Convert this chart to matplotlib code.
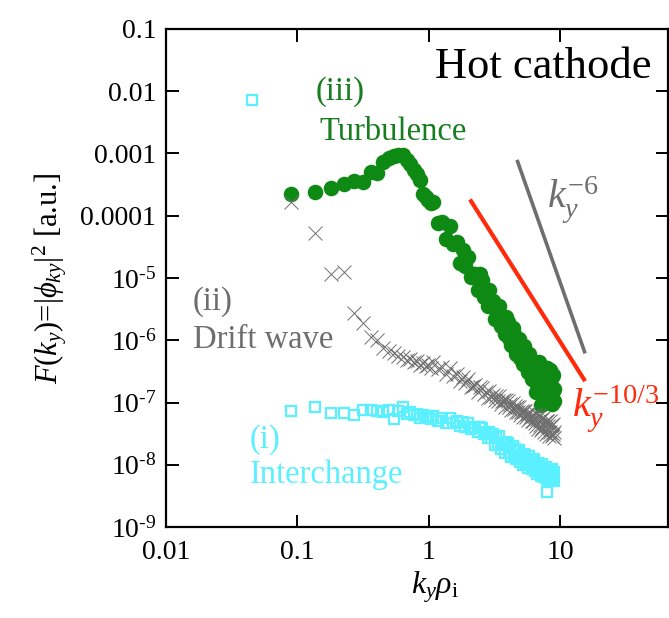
import numpy as np
import matplotlib
matplotlib.use("Agg")
import matplotlib.pyplot as plt

plt.rcParams["font.family"] = ["Liberation Serif", "DejaVu Serif"]
plt.rcParams["mathtext.fontset"] = "custom"
plt.rcParams["mathtext.rm"] = "Liberation Serif"
plt.rcParams["mathtext.it"] = "Liberation Serif:italic"
plt.rcParams["mathtext.bf"] = "Liberation Serif:bold"

# wavenumber grid k_y * rho_i
k_low = [0.045, 0.09, 0.135, 0.18, 0.225, 0.27, 0.315, 0.36, 0.405, 0.45,
         0.495, 0.54, 0.585, 0.63, 0.675, 0.72, 0.765, 0.81, 0.855, 0.90,
         0.945, 0.99, 1.035]
k_high = [1.08, 1.17, 1.26, 1.35, 1.44, 1.53, 1.62, 1.71, 1.80, 1.89,
          1.98, 2.07, 2.16, 2.25, 2.34, 2.43, 2.52, 2.61, 2.70, 2.79,
          2.88, 2.97, 3.06, 3.15, 3.24, 3.33, 3.42, 3.51, 3.60, 3.69,
          3.78, 3.87, 3.96, 4.05, 4.14, 4.23, 4.32, 4.41, 4.50, 4.59,
          4.68, 4.77, 4.86, 4.95, 5.04, 5.13, 5.22, 5.31, 5.40, 5.49,
          5.58, 5.67, 5.76, 5.85, 5.94, 6.03, 6.12, 6.21, 6.30, 6.39,
          6.48, 6.57, 6.66, 6.75, 6.84, 6.93, 7.02, 7.11, 7.20, 7.29,
          7.38, 7.47, 7.56, 7.65, 7.74, 7.83, 7.92, 8.01, 8.10, 8.19,
          8.28, 8.37, 8.46, 8.55, 8.64, 8.73, 8.82, 8.91, 9.00]

# (iii) turbulence spectrum
F_turb_low = [np.nan, 2.2e-4, 2.4e-4, 2.8e-4, 3.2e-4, 3.6e-4, 3.5e-4, 5.0e-4, 4.9e-4, 7.2e-4,
              8.6e-4, 9.0e-4, 9.4e-4, 9.3e-4, 8.0e-4, 6.8e-4, 5.5e-4, 4.6e-4, 3.8e-4, 2.2e-4,
              2.0e-4, 1.8e-4, 1.6e-4]
F_turb_high = [1.67e-4, 7.6e-5, 8.0e-5, 4.2e-5, 6.8e-5, 3.5e-5, 3.8e-5, 1.77e-5, 2.8e-5, 1.58e-5,
               2.2e-5, 1.04e-5, 1.18e-5, 1.18e-5, 6.5e-6, 1.17e-5, 9.2e-6, 4.9e-6, 5.9e-6, 3.5e-6,
               6.4e-6, 3.6e-6, 4.3e-6, 2.2e-6, 3.7e-6, 2.3e-6, 3.5e-6, 1.70e-6, 2.06e-6, 2.17e-6,
               1.26e-6, 2.4e-6, 1.96e-6, 1.09e-6, 1.37e-6, 8.4e-7, 1.60e-6, 9.4e-7, 1.15e-6, 6.1e-7,
               1.06e-6, 6.7e-7, 1.04e-6, 5.2e-7, 6.5e-7, 7.0e-7, 4.2e-7, 8.1e-7, 6.8e-7, 3.9e-7,
               4.9e-7, 3.1e-7, 6.0e-7, 3.6e-7, 4.5e-7, 2.4e-7, 4.2e-7, 2.7e-7, 4.3e-7, 2.2e-7,
               4.3e-7, 1.48e-7, 2.9e-7, 1.67e-7, 4.4e-7, 1.93e-7, 3.1e-7, 9.0e-8, 3.5e-7, 2.0e-7,
               3.7e-7, 1.0e-7, 2.1e-7, 3.0e-7, 1.24e-7, 3.6e-7, 3.2e-7, 1.10e-7, 2.2e-7, 1.25e-7,
               3.3e-7, 1.46e-7, 2.4e-7, 9.3e-8, 2.65e-7, 1.53e-7, 2.8e-7, 1.05e-7, 1.64e-7]

# (ii) drift-wave spectrum
F_drift_low = [np.nan, 1.66e-4, 5.3e-5, 1.16e-5, 1.25e-5, 2.7e-6, 1.9e-6, 1.13e-6, 1.0e-6, 7.5e-7,
               6.6e-7, 6.2e-7, 5.5e-7, 5.4e-7, 4.8e-7, 5.0e-7, 4.4e-7, 4.6e-7, 4.0e-7, 4.3e-7,
               3.8e-7, 4.0e-7, 3.6e-7]
F_drift_high = [4.5e-7, 3.4e-7, 3.7e-7, 2.9e-7, 3.6e-7, 2.7e-7, 2.9e-7, 2.2e-7, 2.6e-7, 2.06e-7,
                2.4e-7, 1.75e-7, 1.86e-7, 1.90e-7, 1.47e-7, 1.80e-7, 1.73e-7, 1.36e-7, 1.50e-7, 1.20e-7,
                1.53e-7, 1.23e-7, 1.34e-7, 1.08e-7, 1.29e-7, 1.06e-7, 1.27e-7, 9.6e-8, 1.04e-7, 1.09e-7,
                8.6e-8, 1.08e-7, 1.05e-7, 8.4e-8, 9.4e-8, 7.6e-8, 9.8e-8, 8.0e-8, 8.7e-8, 7.1e-8,
                8.5e-8, 7.0e-8, 8.5e-8, 6.4e-8, 7.0e-8, 7.4e-8, 5.9e-8, 7.4e-8, 7.2e-8, 5.8e-8,
                6.5e-8, 5.3e-8, 6.8e-8, 5.6e-8, 6.1e-8, 5.0e-8, 6.0e-8, 5.0e-8, 6.1e-8, 4.7e-8,
                6.5e-8, 4.2e-8, 5.4e-8, 3.7e-8, 6.3e-8, 4.3e-8, 5.3e-8, 3.6e-8, 5.4e-8, 3.9e-8,
                5.7e-8, 3.4e-8, 4.2e-8, 4.8e-8, 3.1e-8, 5.1e-8, 5.0e-8, 3.3e-8, 4.2e-8, 2.9e-8,
                5.0e-8, 3.4e-8, 4.2e-8, 2.9e-8, 4.3e-8, 3.1e-8, 4.6e-8, 2.7e-8, 3.4e-8]

# (i) interchange spectrum
F_inter_low = [7.2e-3, 7.3e-8, 8.5e-8, 6.8e-8, 6.8e-8, 6.3e-8, 7.6e-8, 7.6e-8, 7.4e-8, 7.0e-8,
               7.6e-8, 5.4e-8, 7.2e-8, 8.5e-8, 6.6e-8, 7.0e-8, 6.2e-8, 6.6e-8, 5.6e-8, 6.2e-8,
               5.8e-8, 6.0e-8, 5.4e-8]
F_inter_high = [6.1e-8, 5.1e-8, 5.6e-8, 4.7e-8, 5.7e-8, 4.7e-8, 5.1e-8, 4.2e-8, 4.8e-8, 4.0e-8,
                4.7e-8, 3.7e-8, 4.0e-8, 4.1e-8, 3.4e-8, 4.1e-8, 3.9e-8, 3.1e-8, 3.35e-8, 2.7e-8,
                3.3e-8, 2.7e-8, 3.1e-8, 2.1e-8, 2.8e-8, 2.06e-8, 2.9e-8, 1.82e-8, 2.1e-8, 2.2e-8,
                1.56e-8, 2.3e-8, 2.2e-8, 1.55e-8, 1.89e-8, 1.32e-8, 2.0e-8, 1.43e-8, 1.76e-8, 1.24e-8,
                1.67e-8, 1.23e-8, 1.74e-8, 1.12e-8, 1.32e-8, 1.41e-8, 1.0e-8, 1.48e-8, 1.44e-8, 1.02e-8,
                1.26e-8, 8.9e-9, 1.39e-8, 9.8e-9, 1.21e-8, 8.6e-9, 1.17e-8, 8.7e-9, 1.23e-8, 8.0e-9,
                9.4e-9, 1.01e-8, 7.2e-9, 1.06e-8, 1.04e-8, 7.4e-9, 9.2e-9, 6.5e-9, 1.02e-8, 7.2e-9,
                9.0e-9, 6.4e-9, 8.7e-9, 6.5e-9, 9.2e-9, 6.0e-9, 3.6e-9, 7.7e-9, 5.5e-9, 8.4e-9,
                8.3e-9, 6.0e-9, 7.5e-9, 5.4e-9, 8.5e-9, 6.1e-9, 7.7e-9, 5.5e-9, 7.6e-9]

# reference power laws
kolmo_k = [2.05, 15.4]
kolmo_amp = 2.0e-3
kolmo_exp = -10.0 / 3.0
steep_k = [4.67, 15.4]
steep_amp = 8.2
steep_exp = -6.0

x_ticks = [0.01, 0.1, 1, 10]
x_ticklabels = ["0.01", "0.1", "1", "10"]
y_ticks = [1e-1, 1e-2, 1e-3, 1e-4, 1e-5, 1e-6, 1e-7, 1e-8, 1e-9]
y_ticklabels = ["0.1", "0.01", "0.001", "0.0001",
                "$10^{\u2010 5}$", "$10^{\u2010 6}$", "$10^{\u2010 7}$",
                "$10^{\u2010 8}$", "$10^{\u2010 9}$"]

green = "#0E8A14"
green_txt = "#177D1F"
gray = "#6E6E6E"
cyan = "#5AF0FF"
red = "#FF2A0A"

fig = plt.figure(figsize=(6.69, 6.18), dpi=100)
ax = fig.add_axes([0.2481, 0.1472, 0.7504, 0.8059])
ax.set_xscale("log")
ax.set_yscale("log")

k = np.array(k_low + k_high)
ax.plot(k, F_turb_low + F_turb_high, "o", ms=11.2, color=green, mec=green, mew=0, zorder=2)
ax.plot(k, F_drift_low + F_drift_high, "x", ms=10.5, color=gray, mew=0.7, zorder=3)
ax.plot(k, F_inter_low + F_inter_high, "s", ms=6.8, mfc="none", mec=cyan, mew=1.6, zorder=4)

kk = np.array(kolmo_k)
ax.plot(kk, kolmo_amp * kk ** kolmo_exp, color=red, lw=3.0, solid_capstyle="butt", zorder=5)
ks = np.array(steep_k)
ax.plot(ks, steep_amp * ks ** steep_exp, color=gray, lw=2.6, solid_capstyle="butt", zorder=5)

ax.set_xlim(0.01, 65.7)
ax.set_ylim(1e-9, 0.1)
ax.set_xticks(x_ticks)
ax.set_xticklabels(x_ticklabels)
ax.set_yticks(y_ticks)
ax.set_yticklabels(y_ticklabels)
ax.minorticks_off()
ax.tick_params(which="both", direction="in", top=True, right=True,
               length=9, width=1.4, labelsize=20)
ax.tick_params(axis="y", pad=7)
ax.tick_params(axis="x", pad=9)
for s in ax.spines.values():
    s.set_linewidth(1.6)

ax.set_ylabel(r"$F(k_y)$=$|\phi_{ky}|^2$ [a.u.]", fontsize=22, labelpad=8)
ax.set_xlabel(r"$k_y\rho_{\rm i}$", fontsize=23)
ax.xaxis.set_label_coords(0.535, -0.085)

ax.text(0.968, 0.9016, "Hot cathode", transform=ax.transAxes, fontsize=32,
        ha="right", va="baseline", color="black")
ax.text(0.299, 0.857, "(iii)", transform=ax.transAxes, fontsize=23.5,
        ha="left", va="baseline", color=green_txt)
ax.text(0.305, 0.777, "Turbulence", transform=ax.transAxes, fontsize=23.5,
        ha="left", va="baseline", color=green_txt)
ax.text(0.054, 0.436, "(ii)", transform=ax.transAxes, fontsize=23.5,
        ha="left", va="baseline", color=gray)
ax.text(0.054, 0.359, "Drift wave", transform=ax.transAxes, fontsize=23.5,
        ha="left", va="baseline", color=gray)
ax.text(0.167, 0.159, "(i)", transform=ax.transAxes, fontsize=23.5,
        ha="left", va="baseline", color=cyan)
ax.text(0.167, 0.088, "Interchange", transform=ax.transAxes, fontsize=23.5,
        ha="left", va="baseline", color=cyan)
ax.text(0.759, 0.641, r"$k_y^{-6}$", transform=ax.transAxes, fontsize=29,
        ha="left", va="baseline", color=gray)
ax.text(0.809, 0.221, r"$k_y^{-10/3}$", transform=ax.transAxes, fontsize=29,
        ha="left", va="baseline", color=red)

fig.savefig("out.png", dpi=100)
